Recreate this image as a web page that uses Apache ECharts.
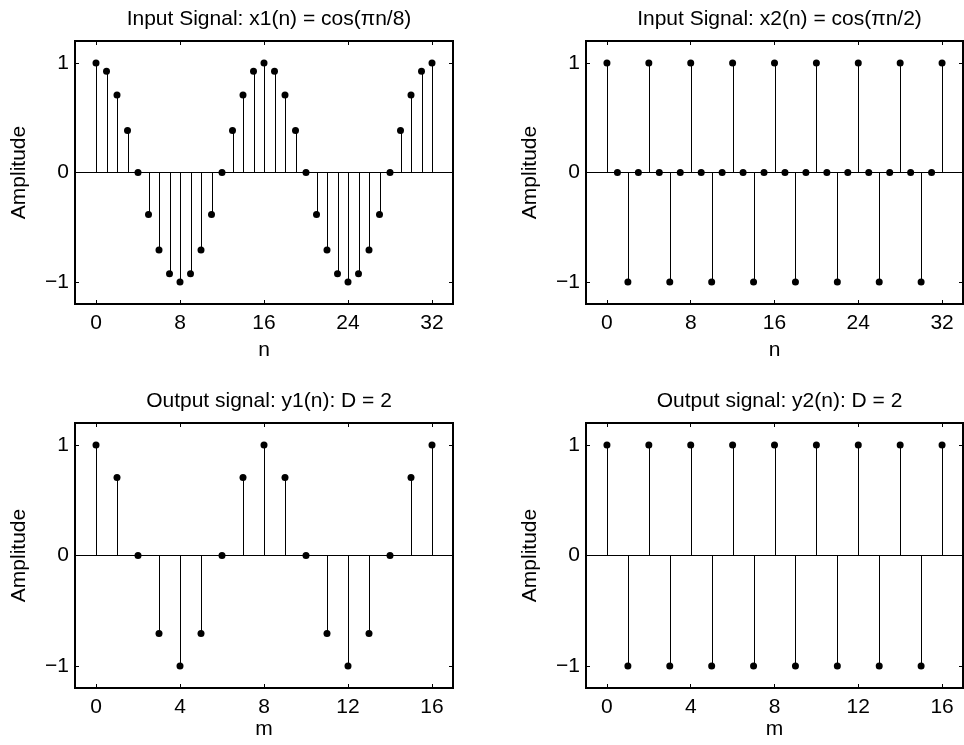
<!DOCTYPE html>
<html>
<head>
<meta charset="utf-8">
<title>Downsampling by D = 2</title>
<script src="https://cdn.jsdelivr.net/npm/echarts@6/dist/echarts.min.js"></script>
<style>
  html, body { margin: 0; padding: 0; background: #fff; }
  #chart { width: 964px; height: 745px; }
</style>
</head>
<body>
<div id="chart"></div>
<script>
// Sample indices
const nIndex = [0, 1, 2, 3, 4, 5, 6, 7, 8, 9, 10, 11, 12, 13, 14, 15, 16,
                17, 18, 19, 20, 21, 22, 23, 24, 25, 26, 27, 28, 29, 30, 31, 32];
const mIndex = [0, 1, 2, 3, 4, 5, 6, 7, 8, 9, 10, 11, 12, 13, 14, 15, 16];

// x1(n) = cos(pi n / 8)
const x1Values = [1, 0.924, 0.707, 0.383, 0, -0.383, -0.707, -0.924, -1, -0.924, -0.707, -0.383,
                  0, 0.383, 0.707, 0.924, 1, 0.924, 0.707, 0.383, 0, -0.383, -0.707, -0.924,
                  -1, -0.924, -0.707, -0.383, 0, 0.383, 0.707, 0.924, 1];
// x2(n) = cos(pi n / 2)
const x2Values = [1, 0, -1, 0, 1, 0, -1, 0, 1, 0, -1, 0, 1, 0, -1, 0, 1,
                  0, -1, 0, 1, 0, -1, 0, 1, 0, -1, 0, 1, 0, -1, 0, 1];
// y1(m) = x1(2m)
const y1Values = [1, 0.707, 0, -0.707, -1, -0.707, 0, 0.707, 1, 0.707, 0, -0.707, -1, -0.707, 0, 0.707, 1];
// y2(m) = x2(2m)
const y2Values = [1, -1, 1, -1, 1, -1, 1, -1, 1, -1, 1, -1, 1, -1, 1, -1, 1];

// Tick labels
const nTicks = [0, 8, 16, 24, 32];
const mTicks = [0, 4, 8, 12, 16];
const ampTicks = [-1, 0, 1];

const titles = [
  'Input Signal: x1(n) = cos(\u03C0n/8)',
  'Input Signal: x2(n) = cos(\u03C0n/2)',
  'Output signal: y1(n): D = 2',
  'Output signal: y2(n): D = 2'
];

const FONT = "'Liberation Sans', Arial, Helvetica, sans-serif";
const FS = 21;

const panels = [
  { idx: nIndex, vals: x1Values, ticks: nTicks, xmin: -2, xmax: 34, xname: 'n', nameGap: 36,
    grid: { left: 75, top: 41, width: 378, height: 263 } },
  { idx: nIndex, vals: x2Values, ticks: nTicks, xmin: -2, xmax: 34, xname: 'n', nameGap: 36,
    grid: { left: 586, top: 41, width: 377, height: 263 } },
  { idx: mIndex, vals: y1Values, ticks: mTicks, xmin: -1, xmax: 17, xname: 'm', nameGap: 29,
    grid: { left: 75, top: 423, width: 378, height: 265 } },
  { idx: mIndex, vals: y2Values, ticks: mTicks, xmin: -1, xmax: 17, xname: 'm', nameGap: 29,
    grid: { left: 586, top: 423, width: 377, height: 265 } }
];

const minusFmt = v => String(v).replace('-', '\u2212');

// Vertical stem from the baseline to each sample value
function stemItem(params, api) {
  const x = api.value(0), y = api.value(1);
  const p0 = api.coord([x, 0]);
  const p1 = api.coord([x, y]);
  const px = Math.round(p0[0]) + 0.5;
  return {
    type: 'line',
    shape: { x1: px, y1: p0[1], x2: px, y2: p1[1] },
    style: { stroke: '#000', lineWidth: 1 }
  };
}

const option = {
  animation: false,
  backgroundColor: '#fff',
  textStyle: { fontFamily: FONT, color: '#000' },
  title: [], grid: [], xAxis: [], yAxis: [], series: []
};

panels.forEach((p, i) => {
  const g = p.grid;
  option.title.push({
    text: titles[i],
    left: g.left + g.width / 2,
    top: g.top - 37,
    textAlign: 'center',
    textStyle: { fontFamily: FONT, fontSize: FS, fontWeight: 'normal', color: '#000' }
  });
  option.grid.push(Object.assign({
    show: true, borderColor: '#000', borderWidth: 2, backgroundColor: '#fff'
  }, g));

  const tickStyle = { show: true, inside: true, length: 4, lineStyle: { color: '#000', width: 1 } };
  const hiddenLine = { show: false, onZero: false };

  // bottom x axis with labels
  option.xAxis.push({
    type: 'value', gridIndex: i, position: 'bottom', min: p.xmin, max: p.xmax,
    name: p.xname, nameLocation: 'middle', nameGap: p.nameGap,
    nameTextStyle: { fontFamily: FONT, fontSize: FS, color: '#000' },
    axisLine: hiddenLine,
    axisTick: Object.assign({ customValues: p.ticks }, tickStyle),
    axisLabel: { customValues: p.ticks, fontFamily: FONT, fontSize: FS, color: '#000', margin: 9 },
    splitLine: { show: false }
  });
  // top x axis: ticks only
  option.xAxis.push({
    type: 'value', gridIndex: i, position: 'top', min: p.xmin, max: p.xmax,
    axisLine: hiddenLine,
    axisTick: Object.assign({ customValues: p.ticks }, tickStyle),
    axisLabel: { show: false },
    splitLine: { show: false }
  });
  // left y axis with labels
  option.yAxis.push({
    type: 'value', gridIndex: i, position: 'left', min: -1.2, max: 1.2,
    name: 'Amplitude', nameLocation: 'middle', nameGap: 45, nameRotate: 90,
    nameTextStyle: { fontFamily: FONT, fontSize: FS, color: '#000' },
    axisLine: hiddenLine,
    axisTick: Object.assign({ customValues: ampTicks }, tickStyle),
    axisLabel: { customValues: ampTicks, formatter: minusFmt, fontFamily: FONT, fontSize: FS, color: '#000', margin: 6 },
    splitLine: { show: false }
  });
  // right y axis: ticks only
  option.yAxis.push({
    type: 'value', gridIndex: i, position: 'right', min: -1.2, max: 1.2,
    axisLine: hiddenLine,
    axisTick: Object.assign({ customValues: ampTicks }, tickStyle),
    axisLabel: { show: false },
    splitLine: { show: false }
  });

  const data = p.idx.map((n, k) => [n, p.vals[k]]);
  option.series.push({
    type: 'custom', xAxisIndex: 2 * i, yAxisIndex: 2 * i,
    renderItem: stemItem, data: data, silent: true, z: 2
  });
  option.series.push({
    type: 'scatter', xAxisIndex: 2 * i, yAxisIndex: 2 * i,
    data: data, symbol: 'circle', symbolSize: 7,
    itemStyle: { color: '#000', opacity: 1 }, silent: true, z: 3,
    markLine: {
      silent: true, symbol: 'none', animation: false,
      label: { show: false },
      lineStyle: { color: '#000', type: 'solid', width: 1, opacity: 1 },
      data: [{ yAxis: 0 }]
    }
  });
});

const chart = echarts.init(document.getElementById('chart'), null, { renderer: 'canvas' });
chart.setOption(option);
</script>
</body>
</html>
